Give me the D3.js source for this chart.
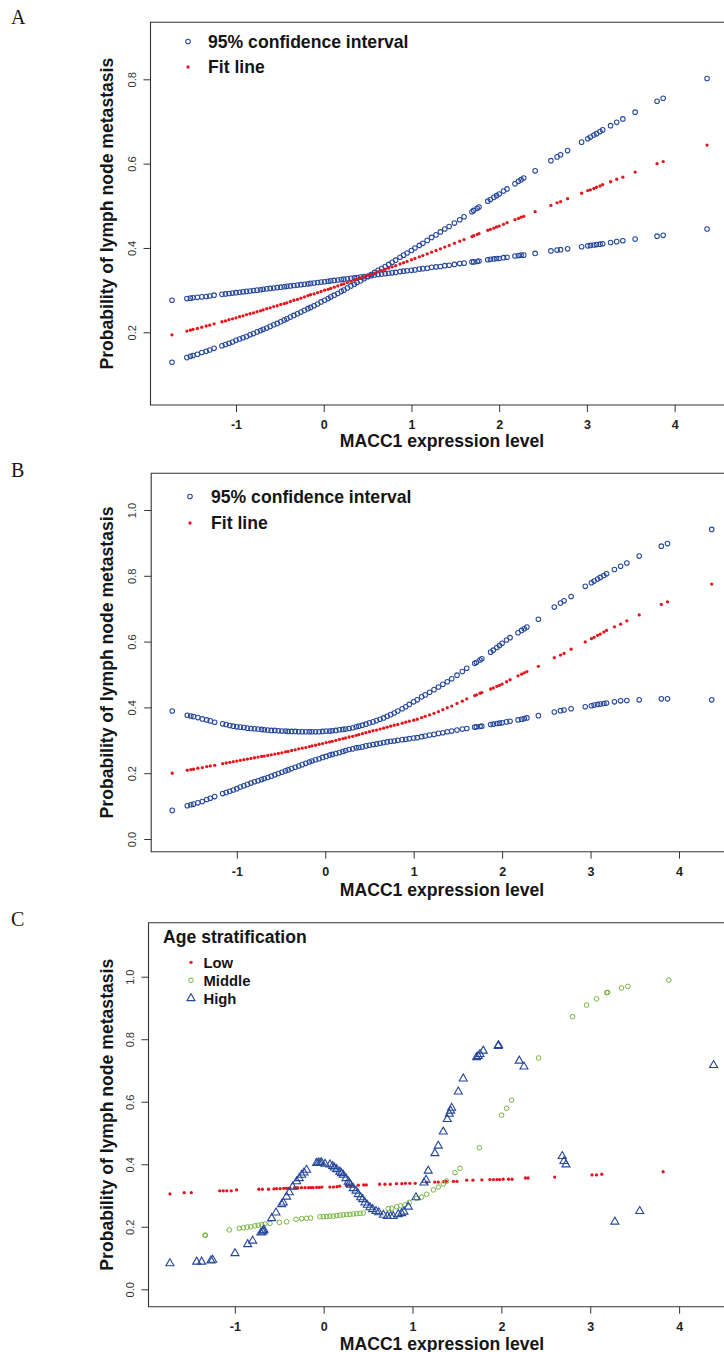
<!DOCTYPE html>
<html><head><meta charset="utf-8">
<script src="https://cdn.jsdelivr.net/npm/d3@7"></script>
<style>html,body{margin:0;padding:0;background:#fff}svg{display:block}</style>
</head><body>
<svg id="chart" width="724" height="1352"></svg>
<script>
// ---------------- DATA ----------------
const xTicks = [-1, 0, 1, 2, 3, 4];
const yTicksA = [0.2, 0.4, 0.6, 0.8];
const yTicksBC = [0.0, 0.2, 0.4, 0.6, 0.8, 1.0];

// MACC1 expression values (shared by panels A and B)
const macc1 = [-1.73,-1.56,-1.52,-1.49,-1.44,-1.39,-1.34,-1.30,-1.25,
-1.16,-1.12,-1.08,-1.04,-1.00,-0.96,-0.92,-0.88,-0.84,-0.80,
-0.76,-0.72,-0.69,-0.65,-0.61,-0.57,-0.53,-0.49,-0.45,-0.42,
-0.38,-0.34,-0.30,-0.26,-0.22,-0.18,-0.15,-0.11,-0.07,-0.03,
0.01,0.05,0.08,0.12,0.16,0.20,0.23,0.27,0.31,0.35,
0.38,0.42,0.46,0.50,0.54,0.58,0.62,0.66,0.70,0.74,
0.78,0.82,0.87,0.91,0.95,1.00,1.04,1.09,1.13,1.18,
1.23,1.28,1.33,1.38,1.43,1.49,1.55,1.60,
1.69,1.71,1.75,1.77,1.87,1.90,1.94,1.97,2.00,2.05,2.09,2.18,2.22,2.25,2.28,2.41,
2.59,2.66,2.70,2.78,2.94,3.01,3.04,3.08,3.11,3.15,3.18,3.27,3.34,3.41,3.55,3.80,3.87,4.37];

// Panel A
const fitA = [0.194,0.203,0.205,0.207,0.209,0.212,0.215,0.217,0.220,
0.225,0.227,0.230,0.232,0.234,0.237,0.239,0.242,0.244,0.246,
0.249,0.251,0.253,0.256,0.258,0.261,0.263,0.266,0.268,0.270,
0.273,0.276,0.278,0.281,0.284,0.287,0.289,0.291,0.294,0.297,
0.300,0.302,0.304,0.307,0.310,0.313,0.315,0.318,0.321,0.324,
0.326,0.329,0.332,0.335,0.337,0.340,0.344,0.346,0.349,0.352,
0.355,0.358,0.362,0.365,0.368,0.372,0.375,0.379,0.382,0.386,
0.390,0.394,0.398,0.402,0.406,0.411,0.416,0.420,
0.427,0.429,0.432,0.434,0.442,0.444,0.447,0.450,0.452,0.456,0.460,0.467,0.470,0.473,0.475,0.486,
0.501,0.507,0.510,0.517,0.530,0.536,0.538,0.541,0.544,0.547,0.550,0.557,0.563,0.568,0.580,0.600,0.605,0.644];
const ciA1 = [0.129,0.140,0.143,0.145,0.148,0.152,0.155,0.158,0.162,
0.168,0.171,0.174,0.177,0.181,0.184,0.187,0.190,0.194,0.197,
0.201,0.204,0.207,0.210,0.214,0.218,0.221,0.225,0.229,0.232,
0.236,0.240,0.244,0.248,0.252,0.256,0.259,0.263,0.267,0.272,
0.276,0.280,0.284,0.288,0.292,0.297,0.300,0.305,0.310,0.314,
0.318,0.322,0.327,0.332,0.337,0.342,0.347,0.351,0.356,0.361,
0.366,0.371,0.378,0.383,0.388,0.394,0.400,0.406,0.411,0.418,
0.425,0.431,0.438,0.445,0.451,0.459,0.467,0.474,
0.486,0.489,0.494,0.497,0.511,0.515,0.520,0.524,0.528,0.535,0.540,0.552,0.558,0.562,0.566,0.583,
0.607,0.616,0.621,0.631,0.651,0.659,0.663,0.668,0.671,0.676,0.680,0.690,0.698,0.706,0.722,0.748,0.755,0.802];
const ciA2 = [0.276,0.280,0.281,0.282,0.283,0.284,0.285,0.286,0.288,
0.290,0.291,0.292,0.293,0.294,0.295,0.296,0.297,0.298,0.299,
0.300,0.301,0.302,0.303,0.304,0.305,0.306,0.307,0.308,0.309,
0.310,0.311,0.312,0.313,0.314,0.315,0.316,0.317,0.318,0.319,
0.320,0.321,0.322,0.323,0.324,0.325,0.326,0.327,0.328,0.329,
0.330,0.331,0.332,0.333,0.334,0.336,0.337,0.338,0.339,0.340,
0.341,0.342,0.344,0.345,0.346,0.347,0.348,0.350,0.351,0.352,
0.354,0.355,0.356,0.358,0.359,0.361,0.363,0.364,
0.367,0.367,0.368,0.369,0.372,0.373,0.374,0.375,0.375,0.377,0.378,0.381,0.382,0.383,0.383,0.387,
0.393,0.395,0.396,0.398,0.403,0.405,0.406,0.407,0.408,0.409,0.410,0.413,0.415,0.417,0.421,0.428,0.430,0.445];

// Panel B
const ciBUpper = [0.389,0.376,0.374,0.372,0.369,0.365,0.362,0.359,0.355,
0.350,0.348,0.345,0.343,0.341,0.340,0.339,0.337,0.336,0.335,
0.334,0.333,0.332,0.331,0.330,0.330,0.329,0.328,0.328,0.327,
0.327,0.327,0.326,0.326,0.326,0.326,0.326,0.326,0.326,0.327,
0.328,0.328,0.329,0.330,0.332,0.333,0.334,0.336,0.338,0.341,
0.343,0.346,0.349,0.353,0.356,0.360,0.364,0.368,0.373,0.378,
0.383,0.389,0.396,0.402,0.409,0.417,0.423,0.432,0.438,0.446,
0.454,0.462,0.470,0.478,0.487,0.498,0.509,0.519,
0.534,0.537,0.544,0.548,0.568,0.574,0.582,0.588,0.595,0.605,0.612,0.627,0.634,0.639,0.644,0.668,
0.705,0.717,0.724,0.737,0.768,0.779,0.784,0.790,0.795,0.801,0.806,0.819,0.829,0.839,0.860,0.890,0.898,0.941];
const fitB = [0.200,0.209,0.211,0.212,0.215,0.217,0.220,0.222,0.224,
0.229,0.231,0.233,0.235,0.237,0.239,0.241,0.243,0.245,0.247,
0.249,0.251,0.252,0.254,0.256,0.258,0.260,0.262,0.265,0.266,
0.269,0.271,0.274,0.276,0.278,0.281,0.283,0.285,0.288,0.290,
0.293,0.295,0.297,0.300,0.303,0.305,0.307,0.310,0.312,0.315,
0.317,0.320,0.323,0.326,0.329,0.331,0.334,0.337,0.340,0.343,
0.346,0.348,0.352,0.355,0.358,0.361,0.364,0.369,0.373,0.377,
0.382,0.387,0.393,0.399,0.404,0.412,0.419,0.426,
0.436,0.438,0.443,0.445,0.456,0.459,0.464,0.467,0.471,0.478,0.484,0.496,0.501,0.505,0.509,0.525,
0.551,0.559,0.564,0.577,0.599,0.609,0.613,0.619,0.623,0.629,0.634,0.645,0.653,0.663,0.681,0.713,0.721,0.775];
const ciBLower = [0.087,0.101,0.104,0.106,0.110,0.114,0.120,0.124,0.129,
0.138,0.141,0.145,0.149,0.153,0.158,0.162,0.166,0.170,0.174,
0.177,0.181,0.184,0.187,0.191,0.195,0.199,0.203,0.207,0.210,
0.214,0.218,0.222,0.226,0.230,0.234,0.237,0.241,0.244,0.248,
0.251,0.255,0.257,0.260,0.263,0.266,0.269,0.272,0.274,0.277,
0.278,0.280,0.283,0.285,0.287,0.289,0.291,0.293,0.295,0.297,
0.298,0.300,0.302,0.303,0.305,0.307,0.308,0.311,0.313,0.316,
0.318,0.321,0.323,0.326,0.328,0.331,0.334,0.336,
0.340,0.341,0.342,0.343,0.348,0.349,0.351,0.352,0.353,0.356,0.358,0.362,0.364,0.366,0.368,0.375,
0.386,0.390,0.392,0.396,0.402,0.405,0.407,0.409,0.410,0.412,0.413,0.417,0.420,0.421,0.423,0.426,0.426,0.423];

// Panel C: [MACC1 level, probability] by age group
const ageLow = [[-1.73,0.305],[-1.57,0.309],[-1.49,0.309],[-1.17,0.315],[-1.13,0.315],[-1.09,0.315],[-1.04,0.315],[-0.98,0.318],
[-0.73,0.320],[-0.69,0.320],[-0.62,0.320],[-0.56,0.321],[-0.53,0.322],[-0.49,0.322],[-0.45,0.323],[-0.42,0.323],[-0.40,0.323],[-0.38,0.323],
[-0.33,0.324],[-0.30,0.324],[-0.29,0.324],[-0.25,0.325],[-0.21,0.325],[-0.17,0.325],[-0.14,0.325],[-0.12,0.325],[-0.08,0.326],[-0.05,0.326],
[-0.02,0.327],[0.07,0.327],[0.11,0.327],[0.15,0.328],[0.18,0.330],[0.26,0.331],[0.30,0.331],[0.33,0.333],[0.39,0.333],[0.45,0.334],[0.48,0.334],
[0.63,0.336],[0.69,0.336],[0.75,0.336],[0.82,0.338],[0.88,0.338],[0.92,0.339],[0.97,0.339],[1.03,0.339],[1.16,0.342],[1.25,0.343],[1.29,0.343],
[1.35,0.344],[1.38,0.345],[1.46,0.345],[1.50,0.345],[1.61,0.349],[1.68,0.349],[1.78,0.350],[1.87,0.351],[1.91,0.351],[1.95,0.351],[1.98,0.351],
[2.02,0.352],[2.08,0.352],[2.12,0.352],[2.27,0.356],[2.30,0.356],[2.60,0.359],[3.02,0.366],[3.07,0.366],[3.13,0.368],[3.82,0.376]];
const ageMiddle = [[-1.336,0.173],[-1.33,0.173],[-1.062,0.190],[-0.950,0.195],[-0.905,0.197],[-0.860,0.199],[-0.822,0.200],[-0.773,0.203],
[-0.736,0.205],[-0.698,0.207],[-0.661,0.209],[-0.604,0.211],[-0.499,0.214],[-0.417,0.216],[-0.312,0.224],[-0.248,0.226],[-0.192,0.227],
[-0.147,0.228],[-0.042,0.232],[-0.004,0.232],[0.034,0.233],[0.071,0.234],[0.108,0.234],[0.146,0.236],[0.183,0.237],[0.221,0.238],[0.259,0.239],
[0.296,0.240],[0.333,0.241],[0.371,0.242],[0.409,0.243],[0.446,0.244],[0.727,0.258],[0.765,0.259],[0.821,0.264],[0.866,0.267],[0.915,0.270],
[0.963,0.278],[1.046,0.291],[1.103,0.295],[1.159,0.304],[1.234,0.318],[1.290,0.327],[1.346,0.337],[1.384,0.346],[1.478,0.373],[1.534,0.387],
[1.751,0.453],[2.003,0.557],[2.059,0.579],[2.115,0.605],[2.419,0.740],[2.801,0.872],[2.959,0.909],[3.071,0.929],[3.185,0.949],[3.197,0.950],
[3.352,0.964],[3.423,0.969],[3.885,0.989]];
const ageHigh = [[-1.730,0.083],[-1.429,0.088],[-1.373,0.088],[-1.268,0.092],[-1.249,0.094],[-0.998,0.115],[-0.855,0.144],[-0.799,0.155],
[-0.706,0.181],[-0.687,0.184],[-0.679,0.188],[-0.672,0.190],[-0.585,0.227],[-0.537,0.245],[-0.473,0.272],[-0.454,0.277],[-0.417,0.296],
[-0.387,0.310],[-0.349,0.328],[-0.304,0.345],[-0.274,0.355],[-0.248,0.366],[-0.222,0.373],[-0.192,0.382],[-0.080,0.404],[-0.061,0.405],
[-0.040,0.405],[-0.023,0.405],[0.015,0.401],[0.071,0.399],[0.101,0.394],[0.120,0.389],[0.146,0.384],[0.183,0.376],[0.200,0.371],[0.221,0.366],
[0.251,0.355],[0.277,0.344],[0.290,0.339],[0.304,0.334],[0.333,0.323],[0.364,0.315],[0.390,0.304],[0.416,0.294],[0.439,0.288],[0.465,0.277],
[0.491,0.270],[0.521,0.262],[0.551,0.256],[0.589,0.250],[0.620,0.246],[0.672,0.238],[0.717,0.234],[0.754,0.234],[0.783,0.234],[0.840,0.240],
[0.878,0.243],[0.904,0.248],[0.952,0.264],[1.039,0.294],[1.129,0.341],[1.152,0.350],[1.177,0.379],[1.252,0.435],[1.290,0.459],[1.346,0.504],
[1.391,0.544],[1.414,0.561],[1.429,0.571],[1.440,0.580],[1.515,0.632],[1.571,0.674],[1.721,0.742],[1.740,0.746],[1.759,0.752],[1.796,0.763],
[1.965,0.778],[1.968,0.781],[2.201,0.731],[2.254,0.712],[2.685,0.426],[2.704,0.410],[2.727,0.399],[3.277,0.216],[3.557,0.250],[4.388,0.717]];

// ---------------- STYLE / LAYOUT ----------------
const SANS = "'Liberation Sans', Arial, Helvetica, sans-serif";
const SERIF = "'Liberation Serif', 'Times New Roman', serif";
const BLUE = "#26489b", RED = "#e3181e", GREEN = "#74b43f", INK = "#151515", FRAME = "#333";

const svg = d3.select("#chart");
svg.append("rect").attr("width", 724).attr("height", 1352).attr("fill", "#fff");

function makePanel(cfg) {
  const g = svg.append("g");
  const x = d3.scaleLinear().domain([-1, 4]).range(cfg.xr);
  const y = d3.scaleLinear().domain(cfg.yd).range(cfg.yr);

  // frame (right side lies outside the picture)
  g.append("path")
    .attr("d", `M760,${cfg.top}H${cfg.left}V${cfg.bottom}H760`)
    .attr("fill", "none").attr("stroke", FRAME).attr("stroke-width", 1.1);

  // x axis
  const xa = g.append("g").attr("transform", `translate(0,${cfg.bottom})`)
    .call(d3.axisBottom(x).tickValues(xTicks).tickSize(7).tickFormat(d => String(d)));
  xa.select(".domain").remove();
  xa.selectAll("line").attr("stroke", FRAME).attr("stroke-width", 1);
  xa.selectAll("text").attr("y", cfg.xLabBase - cfg.bottom).attr("dy", 0)
    .attr("font-family", SANS).attr("font-size", 12.5).attr("font-weight", "bold").attr("fill", "#222");

  // y axis
  const ya = g.append("g").attr("transform", `translate(${cfg.left},0)`)
    .call(d3.axisLeft(y).tickValues(cfg.yTicks).tickSize(7).tickFormat(d3.format(".1f")));
  ya.select(".domain").remove();
  ya.selectAll("line").attr("stroke", FRAME).attr("stroke-width", 1);
  ya.selectAll("text").attr("transform", "rotate(-90)")
    .attr("x", 0).attr("y", -15).attr("dy", 0).attr("text-anchor", "middle")
    .attr("font-family", SANS).attr("font-size", 11).attr("fill", "#333");

  // axis titles
  g.append("text").attr("x", 442).attr("y", cfg.xTitleBase).attr("text-anchor", "middle")
    .attr("font-family", SANS).attr("font-weight", "bold").attr("font-size", 17.6).attr("fill", INK)
    .text("MACC1 expression level");
  g.append("text").attr("transform", `translate(113,${(cfg.top + cfg.bottom) / 2}) rotate(-90)`)
    .attr("text-anchor", "middle")
    .attr("font-family", SANS).attr("font-weight", "bold").attr("font-size", 17.6).attr("fill", INK)
    .text("Probability of lymph node metastasis");

  // panel letter
  g.append("text").attr("x", 11).attr("y", cfg.letterBase)
    .attr("font-family", SERIF).attr("font-size", 20).attr("fill", INK).text(cfg.letter);

  return { g, x, y };
}

function openCircles(g, x, y, xsArr, ysArr, color) {
  g.append("g").selectAll("circle").data(d3.zip(xsArr, ysArr)).join("circle")
    .attr("cx", d => x(d[0])).attr("cy", d => y(d[1])).attr("r", 2.3)
    .attr("fill", "none").attr("stroke", color).attr("stroke-width", 1.05);
}
function dots(g, x, y, xsArr, ysArr, color) {
  g.append("g").selectAll("circle").data(d3.zip(xsArr, ysArr)).join("circle")
    .attr("cx", d => x(d[0])).attr("cy", d => y(d[1])).attr("r", 1.65)
    .attr("fill", color);
}

function ciLegend(g, mx, tx, y1, y2) {
  g.append("circle").attr("cx", mx).attr("cy", y1).attr("r", 2.3).attr("fill", "none").attr("stroke", BLUE).attr("stroke-width", 1.05);
  g.append("circle").attr("cx", mx).attr("cy", y2).attr("r", 1.65).attr("fill", RED);
  g.append("text").attr("x", tx).attr("y", y1 + 6.3).attr("font-family", SANS).attr("font-weight", "bold")
    .attr("font-size", 17.6).attr("fill", INK).text("95% confidence interval");
  g.append("text").attr("x", tx).attr("y", y2 + 6.3).attr("font-family", SANS).attr("font-weight", "bold")
    .attr("font-size", 17.6).attr("fill", INK).text("Fit line");
}

// ---------------- PANEL A ----------------
{
  const { g, x, y } = makePanel({ letter: "A", letterBase: 24, left: 150.5, top: 22.3, bottom: 405,
    xr: [236, 674.6], yd: [0.2, 0.8], yr: [332.3, 79.3], yTicks: yTicksA, xLabBase: 428.5, xTitleBase: 447 });
  openCircles(g, x, y, macc1, ciA1, BLUE);
  openCircles(g, x, y, macc1, ciA2, BLUE);
  dots(g, x, y, macc1, fitA, RED);
  ciLegend(g, 188, 208, 41.5, 67);
}

// ---------------- PANEL B ----------------
{
  const { g, x, y } = makePanel({ letter: "B", letterBase: 477, left: 151.2, top: 473.3, bottom: 851.7,
    xr: [236.8, 679], yd: [0, 1], yr: [839, 510], yTicks: yTicksBC, xLabBase: 876, xTitleBase: 896.3 });
  openCircles(g, x, y, macc1, ciBUpper, BLUE);
  openCircles(g, x, y, macc1, ciBLower, BLUE);
  dots(g, x, y, macc1, fitB, RED);
  ciLegend(g, 190, 211, 496.5, 523);
}

// ---------------- PANEL C ----------------
{
  const { g, x, y } = makePanel({ letter: "C", letterBase: 926, left: 148.5, top: 922.7, bottom: 1306.7,
    xr: [234.8, 679.1], yd: [0, 1], yr: [1289.3, 976.7], yTicks: yTicksBC, xLabBase: 1331, xTitleBase: 1349.5 });
  dots(g, x, y, ageLow.map(d => d[0]), ageLow.map(d => d[1]), RED);
  g.append("g").selectAll("circle").data(ageMiddle).join("circle")
    .attr("cx", d => x(d[0])).attr("cy", d => y(d[1])).attr("r", 2.3)
    .attr("fill", "none").attr("stroke", GREEN).attr("stroke-width", 1);
  const tri = d3.symbol(d3.symbolTriangle, 28);
  g.append("g").selectAll("path").data(ageHigh).join("path")
    .attr("d", tri).attr("transform", d => `translate(${x(d[0])},${y(d[1])})`)
    .attr("fill", "none").attr("stroke", BLUE).attr("stroke-width", 1.1);

  // legend
  g.append("text").attr("x", 163).attr("y", 943.3).attr("font-family", SANS).attr("font-weight", "bold")
    .attr("font-size", 17.6).attr("fill", INK).text("Age stratification");
  const items = [["Low", 962.3], ["Middle", 980.3], ["High", 998.3]];
  g.append("circle").attr("cx", 191).attr("cy", items[0][1]).attr("r", 1.65).attr("fill", RED);
  g.append("circle").attr("cx", 191).attr("cy", items[1][1]).attr("r", 2.3).attr("fill", "none").attr("stroke", GREEN).attr("stroke-width", 1);
  g.append("path").attr("d", tri).attr("transform", `translate(191,${items[2][1]})`).attr("fill", "none").attr("stroke", BLUE).attr("stroke-width", 1.1);
  items.forEach(([t, yy]) => {
    g.append("text").attr("x", 203.5).attr("y", yy + 5.3).attr("font-family", SANS).attr("font-weight", "bold")
      .attr("font-size", 14.8).attr("fill", INK).text(t);
  });
}
</script>
</body></html>
